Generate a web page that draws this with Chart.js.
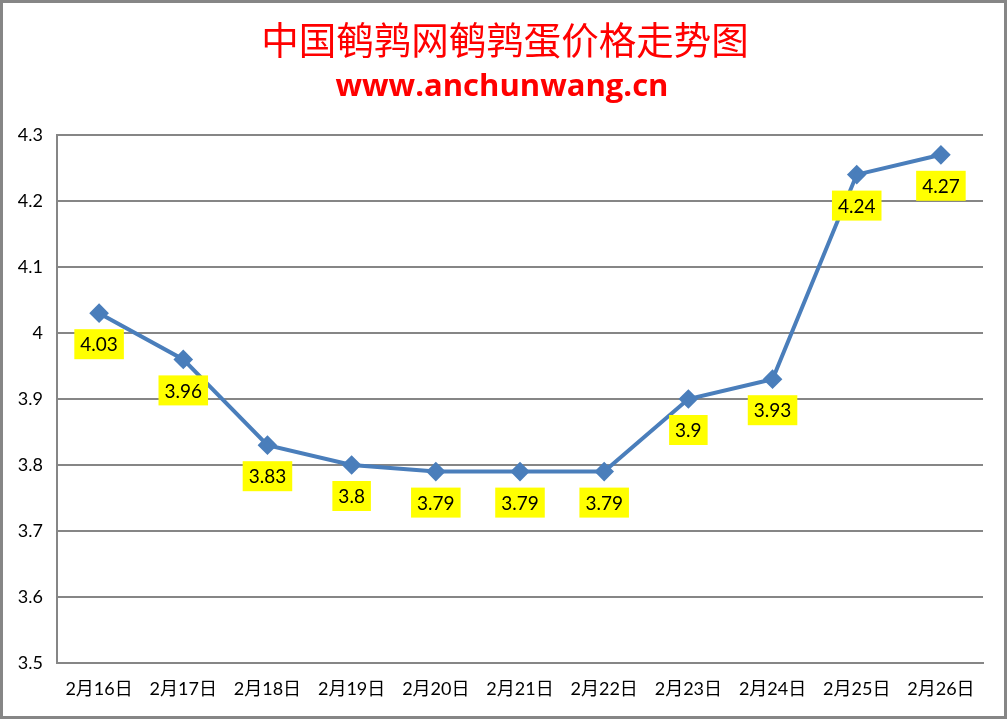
<!DOCTYPE html>
<html><head><meta charset="utf-8">
<script src="https://cdn.jsdelivr.net/npm/chart.js@4"></script>
<style>html,body{margin:0;padding:0;background:#fff;}#wrap{width:1007px;height:719px;position:relative;}</style>
</head><body><div id="wrap"><canvas id="c" width="1007" height="719"></canvas></div>
<script>
const categories = ['2月16日','2月17日','2月18日','2月19日','2月20日','2月21日','2月22日','2月23日','2月24日','2月25日','2月26日'];
const prices = [4.03, 3.96, 3.83, 3.8, 3.79, 3.79, 3.79, 3.9, 3.93, 4.24, 4.27];
const titleText = '中国鹌鹑网鹌鹑蛋价格走势图';
const subtitleText = 'www.anchunwang.cn';
const yMin = 3.5, yMax = 4.3, yStep = 0.1;

const FONT = "Lato, 'Noto Sans CJK SC', sans-serif";

const frame = {
  id: 'frame',
  beforeDraw(chart){
    const ctx = chart.ctx;
    ctx.save();
    ctx.fillStyle = '#fff';
    ctx.fillRect(0,0,chart.width,chart.height);
    ctx.strokeStyle = '#868686';
    ctx.lineWidth = 3;
    ctx.strokeRect(1.5,1.5,chart.width-3,chart.height-3);
    ctx.restore();
  },
  afterDraw(chart){
    const ctx = chart.ctx;
    ctx.save();
    ctx.fillStyle = '#ff0000';
    ctx.textAlign = 'center';
    ctx.textBaseline = 'middle';
    ctx.font = "37.5px 'Noto Sans CJK SC', sans-serif";
    ctx.fillText(titleText, 505, 40);
    ctx.font = "bold 31px 'Open Sans', sans-serif";
    ctx.fillText(subtitleText, 502, 87);
    ctx.restore();
  }
};

const labels = {
  id: 'labels',
  afterDatasetsDraw(chart){
    const ctx = chart.ctx;
    const meta = chart.getDatasetMeta(0);
    ctx.save();
    ctx.font = '19px ' + FONT;
    ctx.textAlign = 'center';
    ctx.textBaseline = 'middle';
    meta.data.forEach((pt, i) => {
      const txt = String(prices[i]);
      const w = ctx.measureText(txt).width + 12;
      const h = 30;
      const cx = pt.x, cy = pt.y + 31;
      ctx.fillStyle = '#ffff00';
      ctx.fillRect(cx - w/2, cy - h/2, w, h);
      ctx.fillStyle = '#000';
      ctx.fillText(txt, cx, cy + 1);
    });
    ctx.restore();
  }
};

new Chart(document.getElementById('c'), {
  type: 'line',
  data: {
    labels: categories,
    datasets: [{
      data: prices,
      borderColor: '#4a7ebb',
      backgroundColor: '#4a7ebb',
      borderWidth: 4,
      pointStyle: 'rectRot',
      pointRadius: 7,
      pointHoverRadius: 7,
      pointBackgroundColor: '#4a7ebb',
      pointBorderColor: '#4a7ebb',
      tension: 0
    }]
  },
  options: {
    responsive: false,
    animation: false,
    devicePixelRatio: 1,
    layout: { padding: { left: 0, right: 24, top: 135, bottom: 0 } },
    plugins: {
      legend: { display: false },
      tooltip: { enabled: false },
      title: { display: false },
      subtitle: { display: false }
    },
    scales: {
      x: {
        offset: true,
        grid: { display: false, drawTicks: false },
        border: { display: true, color: '#868686', width: 2 },
        ticks: { color: '#000', font: { family: FONT, size: 18 }, padding: 15, maxRotation: 0, autoSkip: false },
        afterFit(s){ s.height = 56; }
      },
      y: {
        min: yMin, max: yMax,
        grid: { color: '#868686', lineWidth: 2, drawTicks: false },
        border: { display: true, color: '#868686', width: 2 },
        ticks: { stepSize: yStep, color: '#000', font: { family: FONT, size: 18 }, padding: 14,
          callback: v => String(Math.round(v*10)/10) },
        afterFit(s){ s.width = 57; }
      }
    }
  },
  plugins: [frame, labels]
});
</script></body></html>
